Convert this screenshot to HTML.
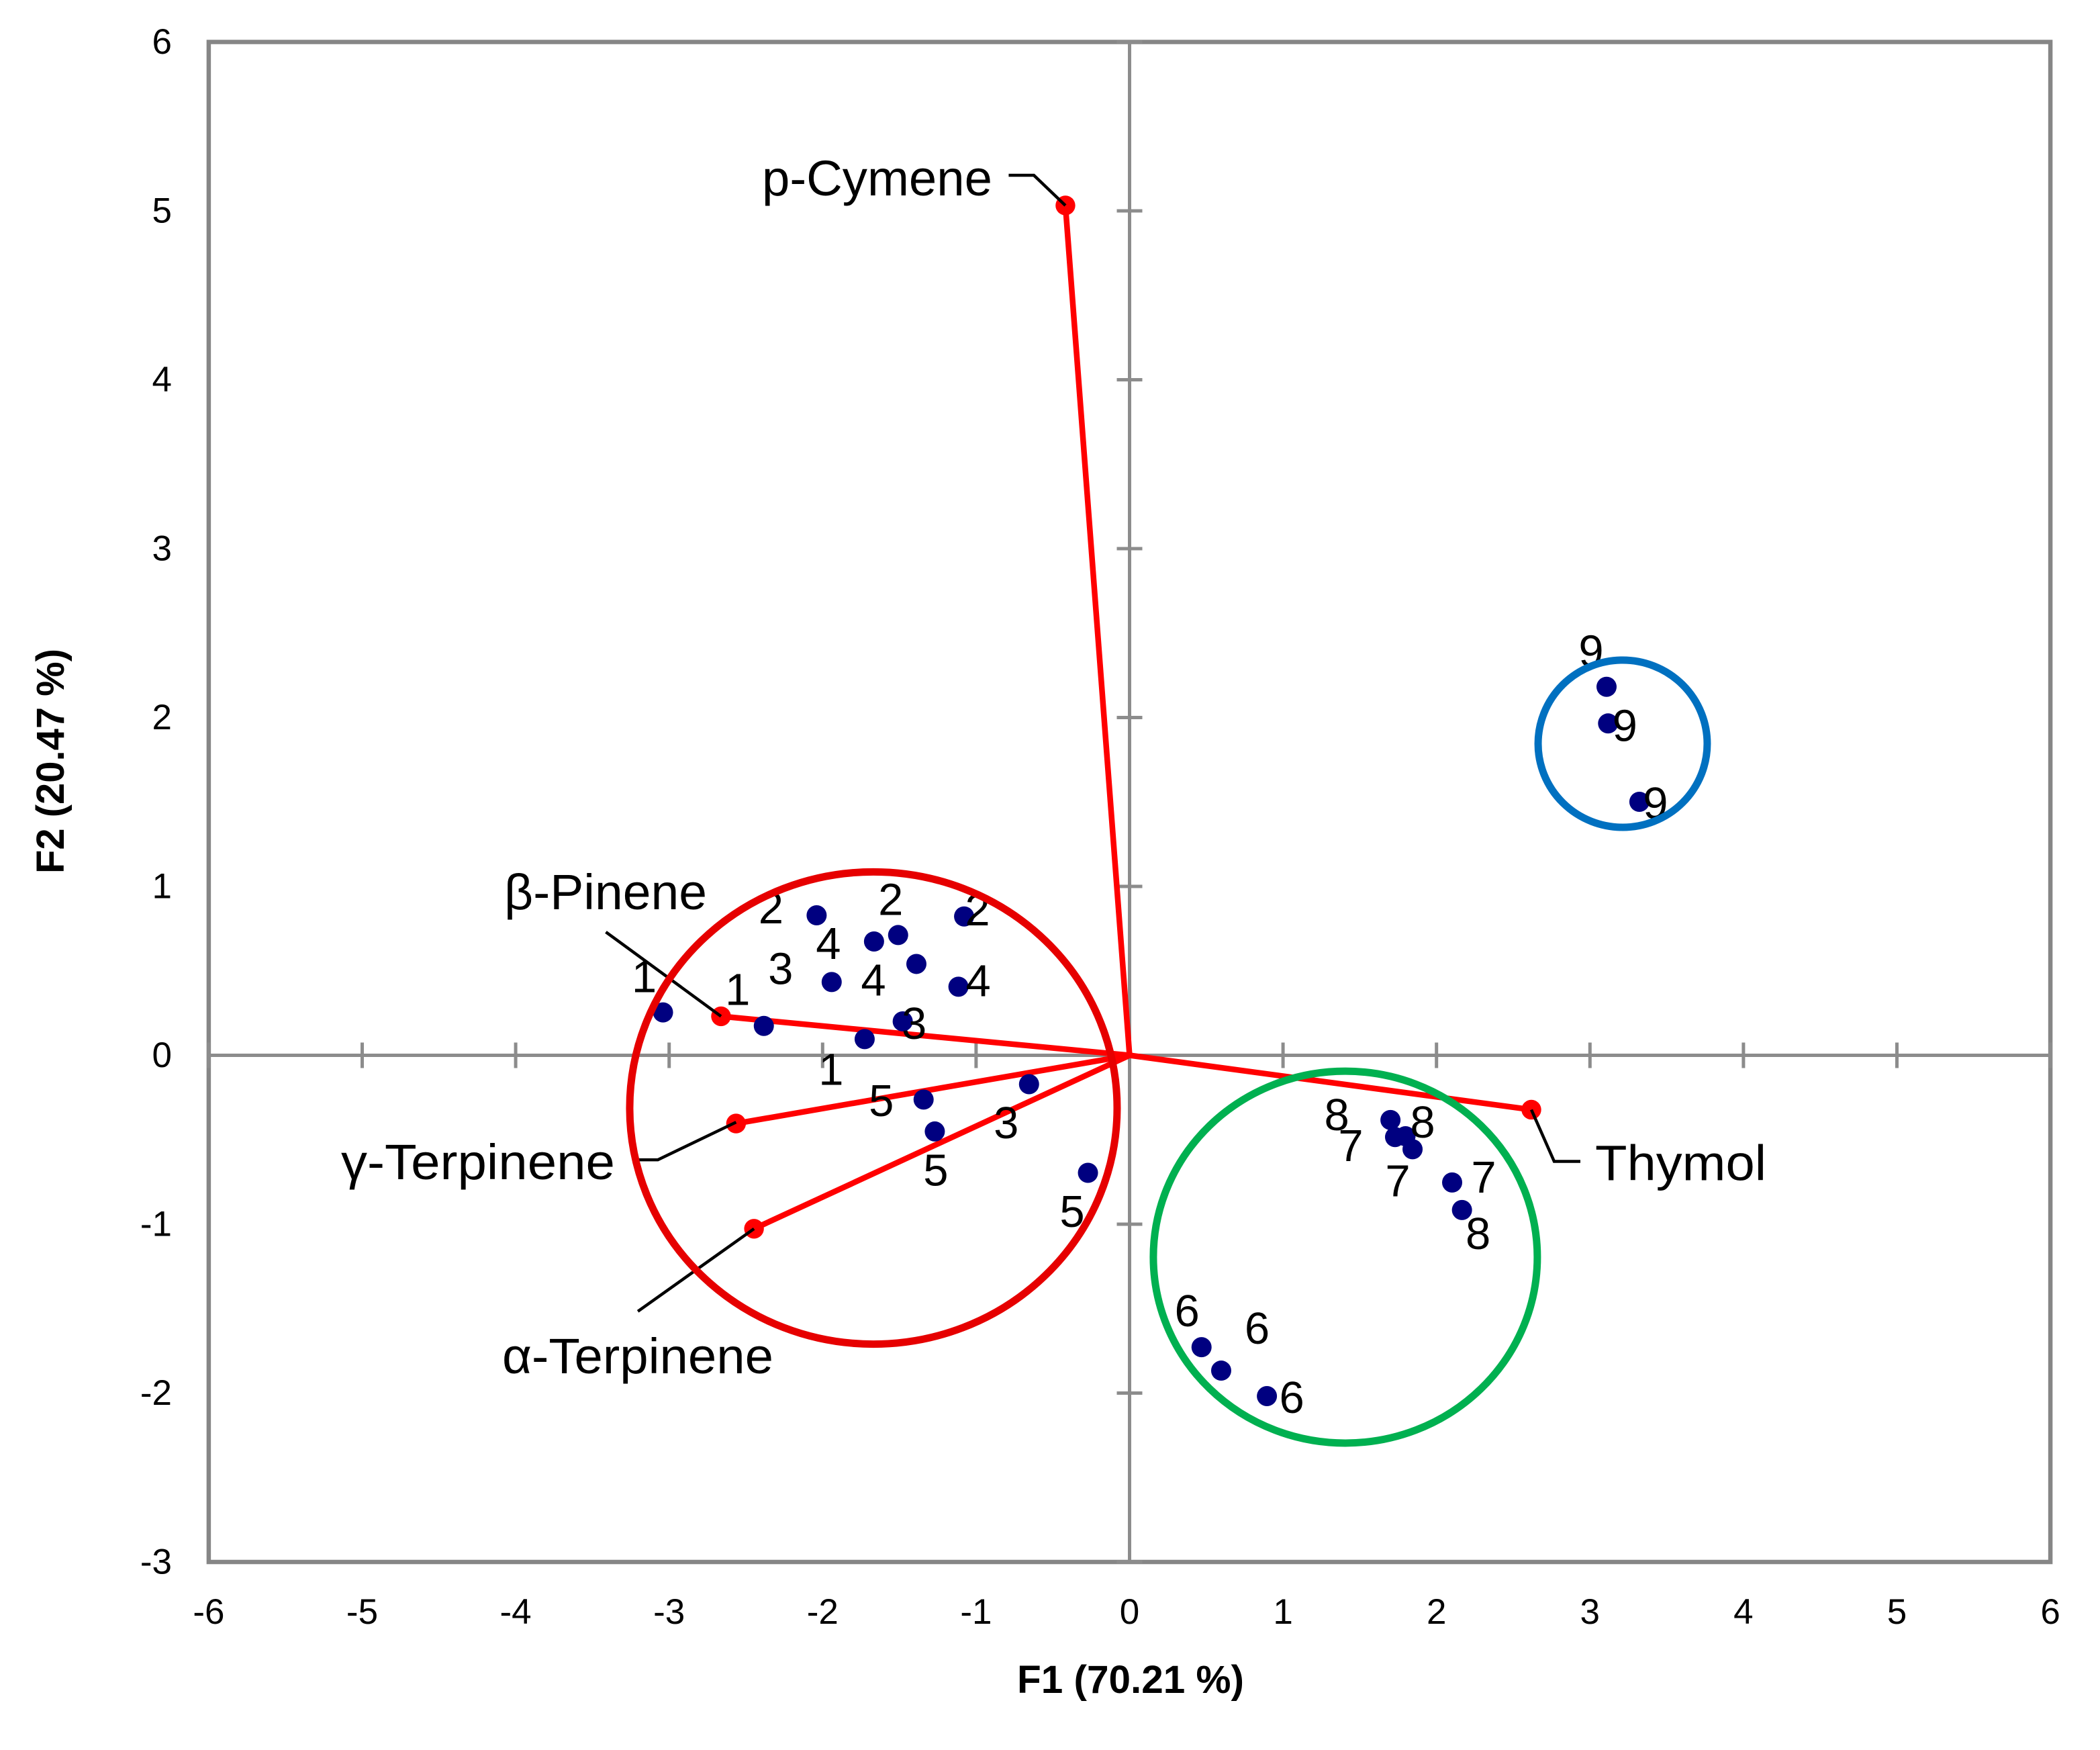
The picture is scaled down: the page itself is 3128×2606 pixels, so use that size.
<!DOCTYPE html>
<html lang="en">
<head>
<meta charset="utf-8">
<title>PCA biplot F1 vs F2</title>
<style>
html,body{margin:0;padding:0;background:#fff;width:3128px;height:2606px;overflow:hidden}
svg{display:block;position:absolute;left:0;top:0}
text{font-family:"Liberation Sans",sans-serif;fill:#000}
</style>
</head>
<body>
<svg id="chart" xmlns="http://www.w3.org/2000/svg" width="3128" height="2606" viewBox="0 0 3128 2606">
  <rect x="0" y="0" width="3128" height="2606" fill="#fff"/>
  <text x="1684" y="2521" text-anchor="middle" font-size="58" font-weight="bold" textLength="338" lengthAdjust="spacingAndGlyphs">F1 (70.21 %)</text>
  <text transform="translate(95 1133.5) rotate(-90)" text-anchor="middle" font-size="58" font-weight="bold" textLength="335" lengthAdjust="spacingAndGlyphs">F2 (20.47 %)</text>
</svg>
<script>
// Axis ticks
const xTickLabels = [-6,-5,-4,-3,-2,-1,0,1,2,3,4,5,6];
const yTickLabels = [-3,-2,-1,0,1,2,3,4,5,6];

// Observation scores
const scoreLabels = ['1','1','1','2','2','2','3','3','3','4','4','4','5','5','5','6','6','6','7','7','7','8','8','8','9','9','9'];
const scoreF1 = [-3.04,-2.383,-1.726,-2.039,-1.508,-1.078,-1.941,-1.478,-0.655,-1.665,-1.389,-1.115,-1.342,-1.269,-0.271,0.469,0.597,0.895,1.73,1.844,2.102,1.70,1.798,2.166,3.108,3.118,3.322];
const scoreF2 = [0.254,0.174,0.096,0.829,0.712,0.822,0.434,0.201,-0.171,0.674,0.541,0.406,-0.262,-0.451,-0.696,-1.728,-1.867,-2.018,-0.484,-0.556,-0.753,-0.383,-0.479,-0.916,2.182,1.965,1.501];

// Variable loadings
const loadingNames = ['beta-pinene','gamma-terpinene','alpha-terpinene','p-cymene','thymol'];
const loadingF1 = [-2.662,-2.564,-2.447,-0.418,2.618];
const loadingF2 = [0.231,-0.404,-1.027,5.032,-0.322];

// Group ellipses, in axis units
const groupNames = ['red-group','green-group','blue-group'];
const groupCenterF1 = [-1.669,1.406,3.213];
const groupCenterF2 = [-0.312,-1.195,1.845];
const groupRadiusF1 = [1.588,1.251,0.551];
const groupRadiusF2 = [1.398,1.101,0.495];

const NS = 'http://www.w3.org/2000/svg';
const svg = document.getElementById('chart');
const xScale = v => 1682.5 + 228.6 * v;
const yScale = v => 1571.5 - 251.5 * v;

function make(tag, attrs, text) {
  const el = document.createElementNS(NS, tag);
  for (const k in attrs) el.setAttribute(k, attrs[k]);
  if (text !== undefined) el.textContent = text;
  svg.appendChild(el);
  return el;
}

// Plot frame
let el = make('rect', {x: xScale(-6), y: yScale(6), width: xScale(6) - xScale(-6), height: yScale(-3) - yScale(6), fill: 'none', stroke: '#868686', 'stroke-width': 6.5});



// Zero axes
el = make('line', {x1: xScale(-6), x2: xScale(6), y1: yScale(0), y2: yScale(0), stroke: '#8c8c8c', 'stroke-width': 5});


el = make('line', {x1: xScale(0), x2: xScale(0), y1: yScale(-3), y2: yScale(6), stroke: '#8c8c8c', 'stroke-width': 5});



// X ticks and labels
xTickLabels.forEach(v => {
  let t = make('line', {x1: xScale(v), x2: xScale(v), y1: yScale(0) - 19, y2: yScale(0) + 19, stroke: '#8c8c8c', 'stroke-width': 5});
  
  
  t = make('text', {x: xScale(v), y: 2418, 'text-anchor': 'middle', 'font-size': 53}, String(v));
  
  
});

// Y ticks and labels
yTickLabels.forEach(v => {
  let t = make('line', {x1: xScale(0) - 19, x2: xScale(0) + 19, y1: yScale(v), y2: yScale(v), stroke: '#8c8c8c', 'stroke-width': 5});
  
  
  t = make('text', {x: 256, y: yScale(v) + 17.5, 'text-anchor': 'end', 'font-size': 53}, String(v));
  
  
});

// Loading vectors
loadingNames.forEach((n, i) => {
  let v = make('line', {x1: xScale(0), y1: yScale(0), x2: xScale(loadingF1[i]), y2: yScale(loadingF2[i]), stroke: '#ff0000', 'stroke-width': 8.5});
  
  
  v = make('circle', {cx: xScale(loadingF1[i]), cy: yScale(loadingF2[i]), r: 14.7, fill: '#ff0000'});
  
  
});

// Observation points
scoreF1.forEach((v, i) => {
  const d = make('circle', {cx: xScale(v), cy: yScale(scoreF2[i]), r: 15, fill: '#000080'});
  
  
});

// Observation labels, each offset from its own point
function scoreLabel(i, dx, dy) {
  const t = make('text', {x: xScale(scoreF1[i]) + dx, y: yScale(scoreF2[i]) + dy, 'text-anchor': 'middle', 'font-size': 67}, scoreLabels[i]);
  
  
}
scoreLabel(0, -28, -30);
scoreLabel(1, -39, -31);
scoreLabel(2, -50, 68);
scoreLabel(3, -68, 12);
scoreLabel(4, -11, -30);
scoreLabel(5, 20, 13);
scoreLabel(6, -76, 3);
scoreLabel(7, 17, 26);
scoreLabel(8, -34, 80.5);
scoreLabel(9, -68, 26);
scoreLabel(10, -64, 47);
scoreLabel(11, 29.5, 14);
scoreLabel(12, -63, 24.5);
scoreLabel(13, 1.5, 80.5);
scoreLabel(14, -23.5, 80.4);
scoreLabel(15, -21.6, -31);
scoreLabel(16, 53.5, -40);
scoreLabel(17, 37, 25);
scoreLabel(18, -66, 36);
scoreLabel(19, -22, 70);
scoreLabel(20, 47, 15);
scoreLabel(21, -80, 15);
scoreLabel(22, 25.5, 2);
scoreLabel(23, 24, 58);
scoreLabel(24, -23, -30);
scoreLabel(25, 25, 26);
scoreLabel(26, 24, 25);

// Leader lines, drawn relative to each loading point
function leader(i, pts) {
  const px = xScale(loadingF1[i]);
  const py = yScale(loadingF2[i]);
  const p = make('polyline', {points: pts.map(q => (px + q[0]) + ',' + (py + q[1])).join(' '), fill: 'none', stroke: '#000', 'stroke-width': 4.5});
  
  
}
leader(0, [[0,0],[-171.5,-125.5]]);
leader(1, [[0,-2],[-116.5,54],[-144.5,54]]);
leader(2, [[0,0],[-173,123]]);
leader(3, [[0,0],[-47,-45],[-84.5,-45]]);
leader(4, [[0,0],[34,77],[73,77]]);

// Loading name labels
function loadingLabel(name, x, y, width, content) {
  const t = make('text', {x: x, y: y, 'font-size': 74, textLength: width, lengthAdjust: 'spacingAndGlyphs'});
  t.textContent = content;
  
  
  return t;
}
loadingLabel('beta-pinene-label', 751, 1354, 302, 'β-Pinene');
loadingLabel('gamma-terpinene-label', 508, 1756, 408, 'γ-Terpinene');
loadingLabel('alpha-terpinene-label', 748, 2045, 404, 'α-Terpinene');
loadingLabel('p-cymene-label', 1135, 291, 343, 'p-Cymene');
loadingLabel('thymol-label', 2376, 1757.5, 255, 'Thymol');

// Group ellipses
const groupColors = ['#e60000','#00b050','#0070c0'];
groupNames.forEach((n, i) => {
  const e = make('ellipse', {cx: xScale(groupCenterF1[i]), cy: yScale(groupCenterF2[i]), rx: groupRadiusF1[i] * 228.6, ry: groupRadiusF2[i] * 251.5, fill: 'none', stroke: groupColors[i], 'stroke-width': 11});
  
  
});
</script>
</body>
</html>
